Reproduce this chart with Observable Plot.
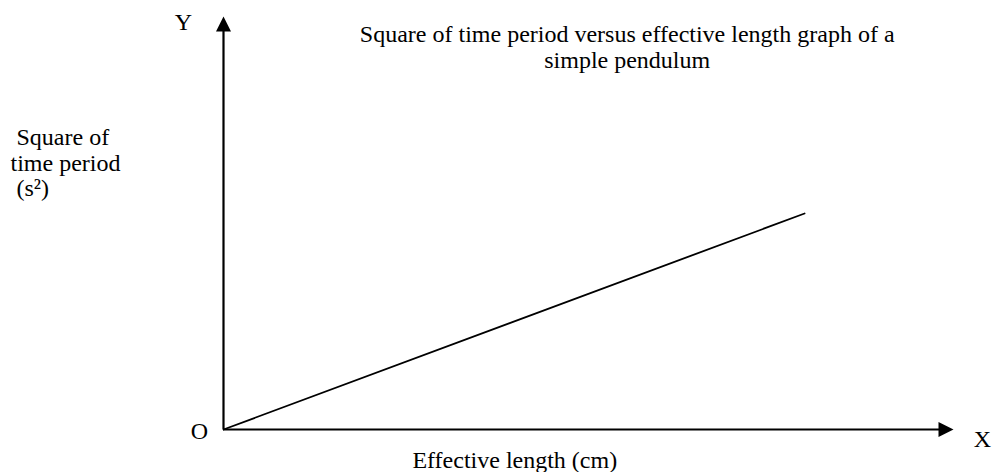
<!DOCTYPE html>
<html>
<head>
<meta charset="utf-8">
<script src="https://cdn.jsdelivr.net/npm/d3@7"></script>
<script src="https://cdn.jsdelivr.net/npm/@observablehq/plot@0.6"></script>
<style>
  html, body { margin: 0; padding: 0; background: #fff; }
  #chart svg { display: block; }
</style>
</head>
<body>
<div id="chart"></div>
<script>
// Data
const effectiveLength = [0, 79.6];      // x values of the straight line (arbitrary units along the x axis)
const periodSquared   = [0, 52.3];      // y values of the straight line
const axisMax = [100];                  // axis extent (arrow tips)
const titleText = "Square of time period versus effective length graph of a\nsimple pendulum";
const xLabel = "Effective length (cm)";
const yLabelLines = ["\u00a0Square of", "time period", "\u00a0(s\u00b2)"];
const axisLetters = ["Y", "O", "X"];

const lineData = effectiveLength.map((x, i) => ({x, y: periodSquared[i]}));

// Custom filled arrowheads whose tip is at the symbol origin
const arrowUp = {draw(ctx) { ctx.moveTo(0, 0); ctx.lineTo(7.5, 15); ctx.lineTo(-7.5, 15); ctx.closePath(); }};
const arrowRight = {draw(ctx) { ctx.moveTo(0, 0); ctx.lineTo(-15, 7.5); ctx.lineTo(-15, -7.5); ctx.closePath(); }};

const font = "'Liberation Serif', 'Times New Roman', Times, serif";

const chart = Plot.plot({
  width: 992,
  height: 472,
  marginLeft: 223,
  marginRight: 39,
  marginTop: 16,
  marginBottom: 43,
  x: {domain: [0, axisMax[0]], axis: null},
  y: {domain: [0, axisMax[0]], axis: null},
  style: {fontFamily: font, background: "#fff", color: "#000", overflow: "visible"},
  marks: [
    // axes shafts
    Plot.ruleX([0], {y1: 0, y2: axisMax[0] - 3.4, stroke: "#000", strokeWidth: 2.2}),
    Plot.ruleY([0], {x1: 0, x2: axisMax[0] - 1.9, stroke: "#000", strokeWidth: 2.2}),
    // arrowheads
    Plot.dot(axisMax, {x: 0, y: d => d, symbol: arrowUp, fill: "#000", stroke: "none", r: 6}),
    Plot.dot(axisMax, {x: d => d, y: 0, symbol: arrowRight, fill: "#000", stroke: "none", r: 6}),
    // data line
    Plot.line(lineData, {x: "x", y: "y", stroke: "#000", strokeWidth: 1.8}),
    // axis letters
    Plot.text([axisLetters[0]], {x: 0, y: axisMax[0], text: d => d, dx: -40, dy: 6, fontSize: 24, fill: "#000"}),
    Plot.text([axisLetters[1]], {x: 0, y: 0, text: d => d, dx: -24, dy: 2, fontSize: 24, fill: "#000"}),
    Plot.text([axisLetters[2]], {x: axisMax[0], y: 0, text: d => d, dx: 29, dy: 10, fontSize: 24, fill: "#000"}),
    // title
    Plot.text([titleText], {x: 55.3, y: axisMax[0], text: d => d, dy: 7, lineAnchor: "top", lineHeight: 1.08, fontSize: 24, fill: "#000"}),
    // y label
    Plot.text([yLabelLines.join("\n")], {x: 0, y: axisMax[0], text: d => d, dx: -213, dy: 111, textAnchor: "start", lineAnchor: "top", lineHeight: 1.05, fontSize: 24, fill: "#000"}),
    // x label
    Plot.text([xLabel], {x: 39.9, y: 0, text: d => d, dy: 31, fontSize: 24, fill: "#000"})
  ]
});

document.getElementById("chart").append(chart);
</script>
</body>
</html>
